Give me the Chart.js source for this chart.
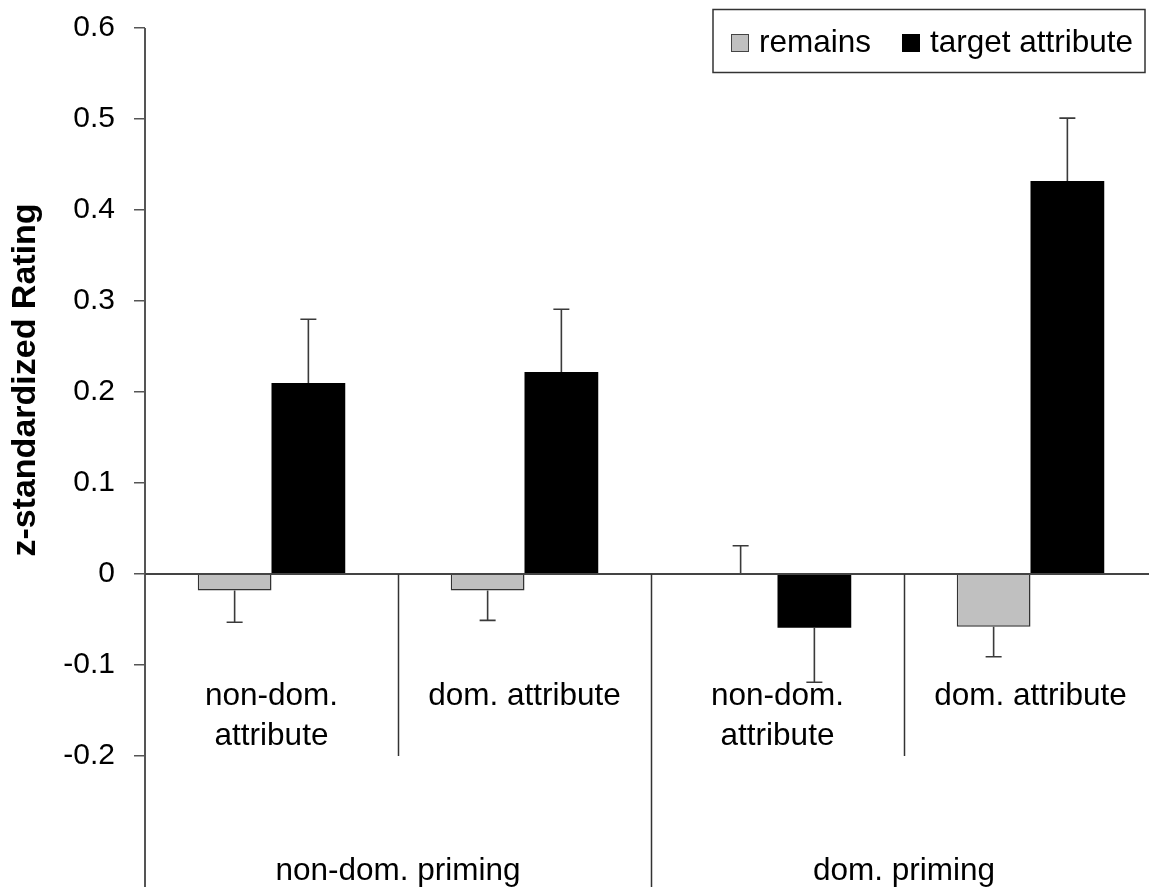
<!DOCTYPE html>
<html>
<head>
<meta charset="utf-8">
<title>z-standardized Rating</title>
<script src="https://cdn.jsdelivr.net/npm/chart.js@4.4.1/dist/chart.umd.min.js"></script>
<style>
  html, body { margin: 0; padding: 0; background: #fff; overflow: hidden; }
  #wrap { position: absolute; left: 0; top: 0; width: 1160px; height: 887px; }
</style>
</head>
<body>
<div id="wrap"><canvas id="chart" width="1160" height="887"></canvas></div>
<script>
// Attribute categories (first label row) and priming conditions (second label row)
const categories = [["non-dom.", "attribute"], ["dom. attribute"], ["non-dom.", "attribute"], ["dom. attribute"]];
const primingGroups = ["non-dom. priming", "dom. priming"];
const seriesNames = ["remains", "target attribute"];

// Mean ratings and the end points of their error bars
const remains = [-0.018, -0.018, 0, -0.058];
const remainsErrEnd = [-0.053, -0.051, 0.031, -0.091];
const target = [0.21, 0.222, -0.059, 0.432];
const targetErrEnd = [0.28, 0.291, -0.119, 0.501];

// Value axis ticks
const yTickValues = [-0.2, -0.1, 0, 0.1, 0.2, 0.3, 0.4, 0.5, 0.6];
const yTitle = "z-standardized Rating";

const FONT = '"Liberation Sans", Arial, Helvetica, sans-serif';
const GRAY = '#c0c0c0';
const LINE = '#3a3a3a';

const errorEnds = [remainsErrEnd, targetErrEnd];

const decorations = {
  id: 'decorations',
  afterDatasetsDraw(chart) {
    const ctx = chart.ctx;
    const area = chart.chartArea;
    const xs = chart.scales.x;
    const ys = chart.scales.y;
    const W = chart.width, H = chart.height;
    const y0 = ys.getPixelForValue(0);

    ctx.save();

    // error bars, drawn away from zero from each bar's end
    chart.data.datasets.forEach((ds, di) => {
      const meta = chart.getDatasetMeta(di);
      meta.data.forEach((bar, i) => {
        const yv = ys.getPixelForValue(ds.data[i]);
        const ye = ys.getPixelForValue(errorEnds[di][i]);
        ctx.strokeStyle = LINE;
        ctx.lineWidth = 1.6;
        ctx.beginPath();
        ctx.moveTo(bar.x, yv);
        ctx.lineTo(bar.x, ye);
        ctx.moveTo(bar.x - 8, ye);
        ctx.lineTo(bar.x + 8, ye);
        ctx.stroke();
      });
    });

    // value axis line, running down through the label rows
    ctx.strokeStyle = '#555';
    ctx.lineWidth = 2;
    ctx.beginPath();
    ctx.moveTo(area.left, ys.getPixelForValue(0.6));
    ctx.lineTo(area.left, H);
    ctx.stroke();

    // zero line (category axis)
    ctx.strokeStyle = '#444';
    ctx.lineWidth = 2;
    ctx.beginPath();
    ctx.moveTo(area.left, y0);
    ctx.lineTo(W, y0);
    ctx.stroke();

    // category separators
    const n = categories.length;
    const px = i => xs.getPixelForValue(i);
    ctx.strokeStyle = '#333';
    ctx.lineWidth = 1.5;
    for (let i = 0; i < n - 1; i++) {
      const bx = Math.round((px(i) + px(i + 1)) / 2) + 0.5;
      const isGroupEdge = (i + 1) % 2 === 0;
      ctx.beginPath();
      ctx.moveTo(bx, y0);
      ctx.lineTo(bx, isGroupEdge ? H : area.bottom);
      ctx.stroke();
    }

    // category labels
    ctx.fillStyle = '#000';
    ctx.font = '31.5px ' + FONT;
    ctx.textAlign = 'center';
    ctx.textBaseline = 'alphabetic';
    categories.forEach((lines, i) => {
      lines.forEach((t, li) => {
        ctx.fillText(t, px(i), area.bottom - 51 + li * 40);
      });
    });

    // priming labels
    primingGroups.forEach((t, g) => {
      const cx = (px(g * 2) + px(g * 2 + 1)) / 2;
      ctx.fillText(t, cx, 880);
    });

    // axis title
    ctx.save();
    ctx.translate(26, 380);
    ctx.rotate(-Math.PI / 2);
    ctx.font = 'bold 34px ' + FONT;
    ctx.textAlign = 'center';
    ctx.textBaseline = 'middle';
    ctx.fillText(yTitle, 0, 0);
    ctx.restore();

    // legend
    const lx = 713, ly = 9.5, lw = 432, lh = 63;
    ctx.fillStyle = '#fff';
    ctx.fillRect(lx, ly, lw, lh);
    ctx.strokeStyle = '#333';
    ctx.lineWidth = 1.5;
    ctx.strokeRect(lx, ly, lw, lh);
    const items = [
      { sx: 731, tx: 759, fill: GRAY, border: '#444' },
      { sx: 902, tx: 930, fill: '#000', border: '#000' }
    ];
    ctx.font = '31.5px ' + FONT;
    ctx.textAlign = 'left';
    ctx.textBaseline = 'alphabetic';
    items.forEach((it, k) => {
      ctx.fillStyle = it.fill;
      ctx.fillRect(it.sx, 34, 18, 18);
      ctx.strokeStyle = it.border;
      ctx.lineWidth = 1;
      ctx.strokeRect(it.sx + 0.5, 34.5, 17, 17);
      ctx.fillStyle = '#000';
      ctx.fillText(chart.data.datasets[k].label, it.tx, 52);
    });

    ctx.restore();
  }
};

new Chart(document.getElementById('chart'), {
  type: 'bar',
  data: {
    labels: categories.map(c => c.join(' ')),
    datasets: [
      { label: seriesNames[0], data: remains, backgroundColor: GRAY, borderColor: '#333', borderWidth: 1.5 },
      { label: seriesNames[1], data: target, backgroundColor: '#000', borderColor: '#000', borderWidth: 0 }
    ]
  },
  options: {
    responsive: false,
    animation: false,
    devicePixelRatio: 1,
    layout: { padding: { left: 0, top: 28, right: 3, bottom: 131 } },
    datasets: { bar: { categoryPercentage: 0.583, barPercentage: 1.0 } },
    plugins: { legend: { display: false }, tooltip: { enabled: false }, title: { display: false } },
    scales: {
      x: { type: 'category', display: false, offset: true },
      y: {
        min: -0.2,
        max: 0.6,
        afterBuildTicks: s => { s.ticks = yTickValues.map(v => ({ value: v })); },
        afterFit: s => { s.width = 145; s.paddingTop = 0; s.paddingBottom = 0; },
        border: { display: false },
        grid: { drawOnChartArea: false, drawTicks: true, tickLength: 11, color: '#555', lineWidth: 1.5 },
        ticks: {
          color: '#000',
          padding: 19,
          font: { family: FONT, size: 30 },
          callback: v => String(Math.round(v * 10) / 10)
        }
      }
    }
  },
  plugins: [decorations]
});
</script>
</body>
</html>
